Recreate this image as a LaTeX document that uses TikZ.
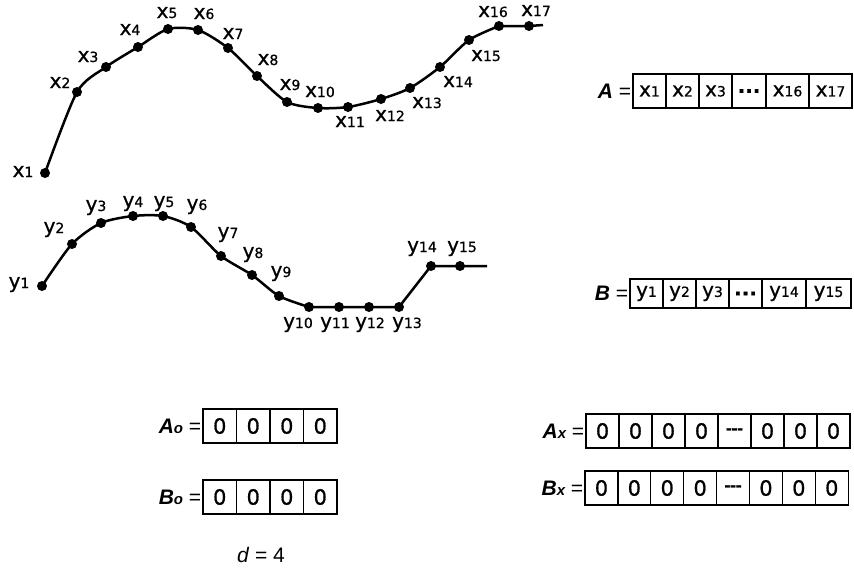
\documentclass[tikz,border=0pt]{standalone}
\usepackage{fontspec}
\setmainfont{DejaVu Sans}[FakeBold=0.8]
\newfontfamily\arl{Liberation Sans}
\newcommand{\lsub}[2]{#1{\fontsize{14}{14}\selectfont #2}}
\newcommand{\bigsub}[2]{{\arl\bfseries\itshape #1{\fontsize{15}{15}\selectfont #2}}}
\begin{document}
\begin{tikzpicture}[x=1pt,y=-1pt,
  curve/.style={line width=2.5pt, line join=round},
  dot/.style={circle, fill=black, inner sep=0pt, minimum size=10pt},
  lab/.style={anchor=base, inner sep=0pt, font=\fontsize{20}{20}\selectfont},
  cell/.style={draw, line width=1.2pt, inner sep=0pt, font=\fontsize{20}{20}\selectfont},
  zcell/.style={draw, line width=1.2pt, inner sep=0pt, font=\fontsize{21}{21}\selectfont},
  nm/.style={anchor=east, inner sep=1pt, font=\arl\fontsize{21}{21}\selectfont}]
\useasboundingbox (0,0) rectangle (854,571);

% ---------- x curve ----------
\foreach \i/\px/\py in {1/45/173,2/77/92,3/106/67,4/138/47,5/168/29,6/198/30,7/228/48,8/257/76,9/287/102,10/318/108,11/348/107,12/381/99,13/410/88,14/440/67,15/469/40,16/499/26,17/529/26}
  \coordinate (cx\i) at (\px,\py);
\coordinate (xend) at (543,25);
\draw[curve] plot[smooth, tension=0.45] coordinates {(cx1) (cx2) (cx3) (cx4) (cx5) (cx6) (cx7) (cx8) (cx9) (cx10) (cx11) (cx12) (cx13) (cx14) (cx15) (cx16)} -- (cx17) -- (xend);
\foreach \i in {1,...,17} \node[dot] (px\i) at (cx\i) {};

\foreach \i/\lx/\ly in {1/23/177,2/60/88,3/88/62,4/130/35,5/167/18,6/204/19,7/233/39,8/268/65,9/290/90,10/320/97,11/350/127,12/390/121,13/427/108,14/458/87,15/486/61,16/493/17,17/536/16}
  \node[lab] (lx\i) at (\lx,\ly) {\lsub{x}{\i}};

% ---------- y curve ----------
\foreach \i/\px/\py in {1/42/286,2/72/244,3/101/223,4/133/216,5/163/216,6/191/227,7/221/256,8/252/275,9/279/296,10/309/307,11/339/307,12/369/307,13/399/307,14/431/266,15/460/266}
  \coordinate (cy\i) at (\px,\py);
\coordinate (yend) at (487,266);
\draw[curve] plot[smooth, tension=0.45] coordinates {(cy1) (cy2) (cy3) (cy4) (cy5) (cy6) (cy7) (cy8) (cy9) (cy10)} -- (cy11) -- (cy12) -- (cy13) -- (cy14) -- (cy15) -- (yend);
\foreach \i in {1,...,15} \node[dot] (py\i) at (cy\i) {};

\foreach \i/\lx/\ly in {1/19/288,2/54/233,3/96/211,4/133/207,5/164/207,6/197/210,7/228/238,8/253/258,9/281/277,10/298/328,11/335/328,12/370/328,13/407/328,14/422/252,15/462/252}
  \node[lab] (ly\i) at (\lx,\ly) {\lsub{y}{\i}};

% ---------- array A ----------
\foreach \i/\cx/\w/\t in {1/649.5/33/{\lsub{x}{1}},2/682.5/33/{\lsub{x}{2}},3/715.5/33/{\lsub{x}{3}},4/749/34/{\bfseries ...},5/787.5/43/{\lsub{x}{16}},6/830.5/43/{\lsub{x}{17}}}
  \node[cell, minimum width=\w pt, minimum height=34pt] (a\i) at (\cx,91) {\t};
\node[nm] (alab) at (a1.west) {{\bfseries\itshape A} =};

% ---------- array B ----------
\foreach \i/\cx/\w/\t in {1/646.5/33/{\lsub{y}{1}},2/679.5/33/{\lsub{y}{2}},3/712.5/33/{\lsub{y}{3}},4/745.5/33/{\bfseries ...},5/784/44/{\lsub{y}{14}},6/828.5/45/{\lsub{y}{15}}}
  \node[cell, minimum width=\w pt, minimum height=29pt] (b\i) at (\cx,293.5) {\t};
\node[nm] (blab) at (b1.west) {{\bfseries\itshape B} =};

% ---------- A0, B0 ----------
\foreach \i in {1,...,4} {
  \node[zcell, minimum width=33.5pt, minimum height=34pt] (ao\i) at ({203+33.5*(\i-0.5)},426) {0};
  \node[zcell, minimum width=33.5pt, minimum height=34pt] (bo\i) at ({203+33.5*(\i-0.5)},497) {0};
}
\node[nm] (aolab) at (ao1.west) {\bigsub{A}{o} =};
\node[nm] (bolab) at (bo1.west) {\bigsub{B}{o} =};

% ---------- Ax, Bx ----------
\foreach \i/\t in {1/0,2/0,3/0,4/0,5/{\fontsize{15}{15}\selectfont\bfseries\raisebox{-1pt}{-\kern-0.6pt-\kern-0.6pt-}},6/0,7/0,8/0} {
  \node[zcell, minimum width=33pt, minimum height=34pt] (ax\i) at ({586+33*(\i-0.5)},431) {\t};
  \node[zcell, minimum width=32.9pt, minimum height=34pt] (bx\i) at ({585+32.9*(\i-0.5)},488) {\t};
}
\node[nm] (axlab) at (ax1.west) {\bigsub{A}{x} =};
\node[nm] (bxlab) at (bx1.west) {\bigsub{B}{x} =};

% ---------- d = 4 ----------
\node[anchor=base, inner sep=0pt, font=\arl\fontsize{21}{21}\selectfont] (dlab) at (261,562) {\textit{d} = 4};
\end{tikzpicture}
\end{document}
